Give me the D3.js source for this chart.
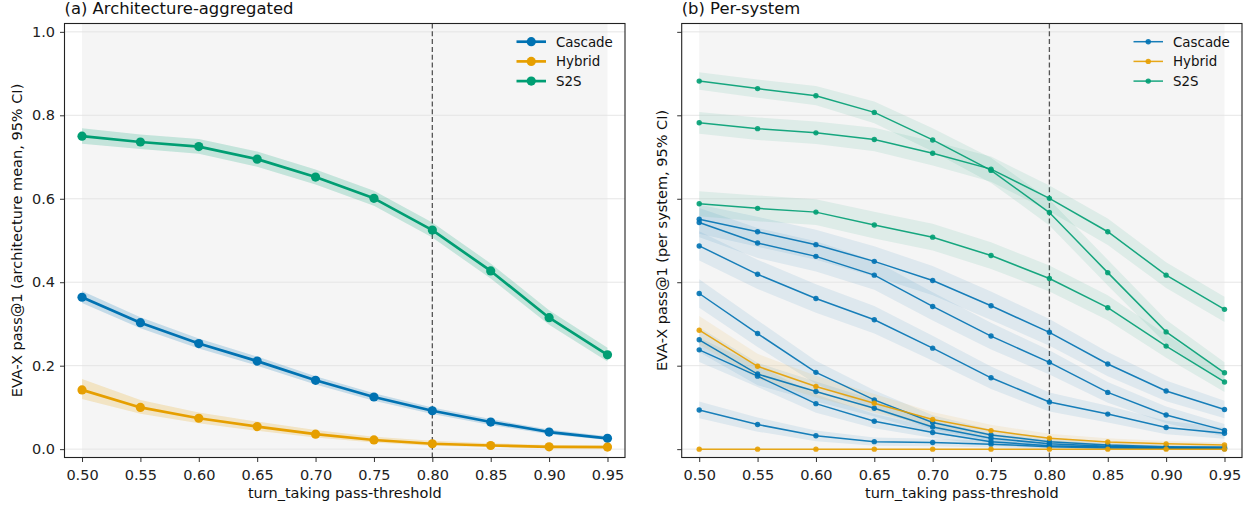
<!DOCTYPE html>
<html>
<head>
<meta charset="utf-8">
<script src="https://cdn.jsdelivr.net/npm/d3@7"></script>
<style>
  html, body { margin: 0; padding: 0; background: #fff; }
  svg { display: block; font-family: "DejaVu Sans", sans-serif; }
</style>
</head>
<body>
<svg id="chart" width="1251" height="507"></svg>
<script>
// ---------------- DATA ----------------
const thresholds = [0.50, 0.55, 0.60, 0.65, 0.70, 0.75, 0.80, 0.85, 0.90, 0.95];
const xTickLabels = ["0.50", "0.55", "0.60", "0.65", "0.70", "0.75", "0.80", "0.85", "0.90", "0.95"];
const yTicks = [0.0, 0.2, 0.4, 0.6, 0.8, 1.0];
const yTickLabels = ["0.0", "0.2", "0.4", "0.6", "0.8", "1.0"];
const archNames = ["Cascade", "Hybrid", "S2S"];
const archColors = ["#0072B2", "#E69F00", "#009E73"];
const referenceThreshold = 0.80;

// (a) architecture-aggregated means with 95% CI
const cascadeMean = [0.364, 0.303, 0.253, 0.211, 0.165, 0.125, 0.092, 0.065, 0.041, 0.026];
const cascadeLo   = [0.350, 0.290, 0.241, 0.200, 0.155, 0.116, 0.084, 0.058, 0.036, 0.022];
const cascadeHi   = [0.379, 0.316, 0.265, 0.222, 0.175, 0.134, 0.100, 0.072, 0.047, 0.031];
const hybridMean  = [0.142, 0.100, 0.074, 0.054, 0.036, 0.022, 0.013, 0.0087, 0.0055, 0.005];
const hybridLo    = [0.120, 0.085, 0.062, 0.044, 0.028, 0.016, 0.008, 0.005, 0.003, 0.003];
const hybridHi    = [0.168, 0.118, 0.088, 0.066, 0.046, 0.030, 0.020, 0.014, 0.010, 0.009];
const s2sMean     = [0.750, 0.736, 0.725, 0.695, 0.652, 0.601, 0.525, 0.427, 0.315, 0.226];
const s2sLo       = [0.732, 0.719, 0.708, 0.677, 0.634, 0.583, 0.507, 0.409, 0.298, 0.210];
const s2sHi       = [0.769, 0.754, 0.743, 0.713, 0.670, 0.619, 0.543, 0.445, 0.333, 0.243];

// (b) per-system values with CI half-widths
const cascadeSystems = [
  [0.551, 0.521, 0.490, 0.450, 0.404, 0.3435, 0.280, 0.204, 0.1395, 0.095],
  [0.543, 0.494, 0.462, 0.417, 0.342, 0.271, 0.208, 0.136, 0.082, 0.045],
  [0.487, 0.419, 0.361, 0.310, 0.242, 0.171, 0.113, 0.084, 0.052, 0.038],
  [0.373, 0.277, 0.184, 0.118, 0.064, 0.034, 0.018, 0.010, 0.006, 0.005],
  [0.262, 0.180, 0.138, 0.098, 0.053, 0.026, 0.013, 0.007, 0.004, 0.003],
  [0.238, 0.175, 0.109, 0.067, 0.040, 0.018, 0.008, 0.005, 0.003, 0.002],
  [0.094, 0.059, 0.032, 0.018, 0.016, 0.012, 0.006, 0.003, 0.002, 0.001]
];
const cascadeSystemsCI = [
  [0.035, 0.036, 0.036, 0.036, 0.035, 0.034, 0.032, 0.029, 0.025, 0.021],
  [0.035, 0.036, 0.036, 0.035, 0.034, 0.032, 0.029, 0.025, 0.020, 0.015],
  [0.035, 0.035, 0.034, 0.033, 0.030, 0.027, 0.023, 0.020, 0.016, 0.013],
  [0.034, 0.032, 0.028, 0.023, 0.017, 0.013, 0.010, 0.007, 0.005, 0.004],
  [0.030, 0.027, 0.024, 0.020, 0.015, 0.011, 0.008, 0.006, 0.004, 0.003],
  [0.029, 0.026, 0.022, 0.017, 0.013, 0.009, 0.006, 0.004, 0.003, 0.002],
  [0.020, 0.017, 0.013, 0.010, 0.009, 0.008, 0.005, 0.004, 0.003, 0.002]
];
const hybridSystems = [
  [0.285, 0.1985, 0.150, 0.110, 0.071, 0.0445, 0.026, 0.017, 0.0127, 0.010],
  [0.000, 0.000, 0.000, 0.000, 0.000, 0.000, 0.000, 0.000, 0.000, 0.000]
];
const hybridSystemsCI = [
  [0.034, 0.030, 0.026, 0.022, 0.018, 0.014, 0.011, 0.009, 0.007, 0.006],
  [0.000, 0.000, 0.000, 0.000, 0.000, 0.000, 0.000, 0.000, 0.000, 0.000]
];
const s2sSystems = [
  [0.882, 0.864, 0.847, 0.807, 0.741, 0.668, 0.567, 0.423, 0.281, 0.183],
  [0.782, 0.768, 0.758, 0.742, 0.709, 0.671, 0.601, 0.521, 0.417, 0.335],
  [0.588, 0.577, 0.568, 0.537, 0.508, 0.464, 0.409, 0.339, 0.247, 0.161]
];
const s2sSystemsCI = [
  [0.021, 0.022, 0.023, 0.026, 0.028, 0.030, 0.031, 0.031, 0.029, 0.025],
  [0.026, 0.027, 0.027, 0.028, 0.029, 0.030, 0.031, 0.032, 0.031, 0.030],
  [0.030, 0.031, 0.031, 0.032, 0.032, 0.032, 0.031, 0.030, 0.028, 0.024]
];

// ---------------- LAYOUT ----------------
const svg = d3.select("#chart");
const panels = [
  { x0: 64.5, x1: 625, title: "(a) Architecture-aggregated", ylabel: "EVA-X pass@1 (architecture mean, 95% CI)", ylabelX: 22, showYLabels: true },
  { x0: 681.7, x1: 1242, title: "(b) Per-system", ylabel: "EVA-X pass@1 (per system, 95% CI)", ylabelX: 667, showYLabels: false }
];
const yTop = 23.5, yBot = 457.5;
const xDomain = [0.485, 0.965];
const yDomain = [-0.02, 1.02];

function setupPanel(p) {
  const x = d3.scaleLinear().domain(xDomain).range([p.x0, p.x1]);
  const y = d3.scaleLinear().domain(yDomain).range([yBot, yTop]);
  const g = svg.append("g");
  // shaded span
  g.append("rect")
    .attr("x", x(thresholds[0])).attr("y", yTop)
    .attr("width", x(thresholds[thresholds.length - 1]) - x(thresholds[0]))
    .attr("height", yBot - yTop)
    .attr("fill", "#f5f5f5");
  // grid
  g.selectAll(".grid").data(yTicks).enter().append("line")
    .attr("x1", p.x0).attr("x2", p.x1)
    .attr("y1", d => y(d)).attr("y2", d => y(d))
    .attr("stroke", "#e3e3e3").attr("stroke-width", 0.9);
  // ref line
  g.append("line")
    .attr("x1", x(referenceThreshold)).attr("x2", x(referenceThreshold))
    .attr("y1", yTop).attr("y2", yBot)
    .attr("stroke", "#555").attr("stroke-width", 1.3)
    .attr("stroke-dasharray", "5,2.8");
  return { x, y, g };
}

function drawAxes(p, x, y) {
  const g = svg.append("g");
  const xa = d3.axisBottom(x).tickValues(thresholds).tickFormat((d, i) => xTickLabels[i])
    .tickSizeOuter(0).tickSize(4.5).tickPadding(4);
  const gx = g.append("g").attr("transform", `translate(0,${yBot})`).call(xa);
  const ya = d3.axisLeft(y).tickValues(yTicks)
    .tickFormat((d, i) => p.showYLabels ? yTickLabels[i] : "")
    .tickSizeOuter(0).tickSize(4.5).tickPadding(5);
  const gy = g.append("g").attr("transform", `translate(${p.x0},0)`).call(ya);
  [gx, gy].forEach(a => {
    a.select(".domain").remove();
    a.selectAll(".tick line").attr("stroke", "#333").attr("stroke-width", 1);
    a.selectAll(".tick text").attr("fill", "#222").style("font-size", "14.5px")
      .style("font-family", "DejaVu Sans, sans-serif");
  });
  gx.selectAll(".tick text").attr("dy", "0.95em");
  // frame
  g.append("rect").attr("x", p.x0).attr("y", yTop)
    .attr("width", p.x1 - p.x0).attr("height", yBot - yTop)
    .attr("fill", "none").attr("stroke", "#222").attr("stroke-width", 1.1);
  // titles and labels
  g.append("text").attr("x", p.x0).attr("y", 14)
    .style("font-size", "16.4px").attr("fill", "#111").text(p.title);
  g.append("text").attr("x", (p.x0 + p.x1) / 2).attr("y", 498)
    .attr("text-anchor", "middle").style("font-size", "14.5px").attr("fill", "#111")
    .text("turn_taking pass-threshold");
  g.append("text")
    .attr("transform", `translate(${p.ylabelX},${(yTop + yBot) / 2}) rotate(-90)`)
    .attr("text-anchor", "middle").style("font-size", "14.5px").attr("fill", "#111")
    .text(p.ylabel);
}

function drawLegend(p, x, lw, r, opacity) {
  const g = svg.append("g");
  const lx0 = p.x1 - 108.5, lx1 = p.x1 - 79;
  archNames.forEach((name, i) => {
    const yy = 41.7 + i * 19.7;
    g.append("line").attr("x1", lx0).attr("x2", lx1).attr("y1", yy).attr("y2", yy)
      .attr("stroke", archColors[i]).attr("stroke-width", lw).attr("opacity", opacity);
    g.append("circle").attr("cx", (lx0 + lx1) / 2).attr("cy", yy).attr("r", r)
      .attr("fill", archColors[i]).attr("opacity", opacity);
    g.append("text").attr("x", lx1 + 10).attr("y", yy).attr("dy", "0.36em")
      .style("font-size", "13.4px").attr("fill", "#111").text(name);
  });
}

// ---------------- PANEL (a) ----------------
{
  const p = panels[0];
  const { x, y, g } = setupPanel(p);
  const series = [
    { mean: cascadeMean, lo: cascadeLo, hi: cascadeHi, c: archColors[0] },
    { mean: hybridMean, lo: hybridLo, hi: hybridHi, c: archColors[1] },
    { mean: s2sMean, lo: s2sLo, hi: s2sHi, c: archColors[2] }
  ];
  const area = d3.area().x(d => x(d.t)).y0(d => y(d.lo)).y1(d => y(d.hi));
  const line = d3.line().x(d => x(d.t)).y(d => y(d.v));
  series.forEach(s => {
    const pts = thresholds.map((t, i) => ({ t, v: s.mean[i], lo: s.lo[i], hi: s.hi[i] }));
    g.append("path").datum(pts).attr("d", area).attr("fill", s.c).attr("opacity", 0.2);
    g.append("path").datum(pts).attr("d", line).attr("fill", "none")
      .attr("stroke", s.c).attr("stroke-width", 2.7).attr("stroke-linejoin", "round");
    g.selectAll(null).data(pts).enter().append("circle")
      .attr("cx", d => x(d.t)).attr("cy", d => y(d.v)).attr("r", 4.6).attr("fill", s.c);
  });
  drawAxes(p, x, y);
  drawLegend(p, x, 2.7, 4.6, 1);
}

// ---------------- PANEL (b) ----------------
{
  const p = panels[1];
  const { x, y, g } = setupPanel(p);
  const groups = [
    { sys: cascadeSystems, ci: cascadeSystemsCI, c: archColors[0] },
    { sys: hybridSystems, ci: hybridSystemsCI, c: archColors[1] },
    { sys: s2sSystems, ci: s2sSystemsCI, c: archColors[2] }
  ];
  const area = d3.area().x(d => x(d.t)).y0(d => y(Math.max(0, d.v - d.h))).y1(d => y(d.v + d.h));
  const line = d3.line().x(d => x(d.t)).y(d => y(d.v));
  const all = [];
  groups.forEach(gr => gr.sys.forEach((vals, k) => {
    all.push({ c: gr.c, pts: thresholds.map((t, i) => ({ t, v: vals[i], h: gr.ci[k][i] })) });
  }));
  all.forEach(s => {
    g.append("path").datum(s.pts).attr("d", area).attr("fill", s.c).attr("opacity", 0.09);
  });
  all.forEach(s => {
    g.append("path").datum(s.pts).attr("d", line).attr("fill", "none")
      .attr("stroke", s.c).attr("stroke-width", 1.5).attr("opacity", 0.9);
    g.selectAll(null).data(s.pts).enter().append("circle")
      .attr("cx", d => x(d.t)).attr("cy", d => y(d.v)).attr("r", 2.7)
      .attr("fill", s.c).attr("opacity", 0.9);
  });
  drawAxes(p, x, y);
  drawLegend(p, x, 1.5, 2.7, 0.9);
}
</script>
</body>
</html>
